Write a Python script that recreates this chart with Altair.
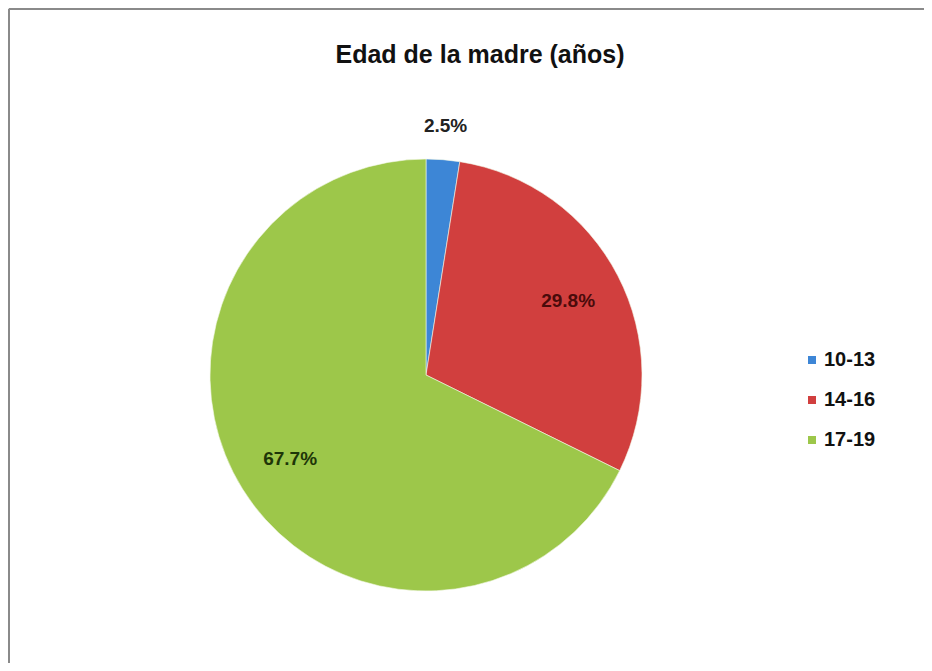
import altair as alt
import pandas as pd

categories = ["10-13", "14-16", "17-19"]
percentages = [2.5, 29.8, 67.7]
labels = ["2.5%", "29.8%", "67.7%"]
slice_colors = ["#3d86d6", "#d13f3e", "#9dc74a"]
label_colors = ["#222222", "#4a0b0b", "#1e3608"]
title_text = "Edad de la madre (años)"

df = pd.DataFrame({
    "cat": categories,
    "pct": percentages,
    "label": labels,
    "ord": list(range(len(categories))),
})

FONT = "Liberation Sans, Arial, sans-serif"
CX, CY = 418, 367
R = 216

base = alt.Chart(df).encode(
    theta=alt.Theta("pct:Q", stack=True),
    order=alt.Order("ord:Q"),
)

pie = base.mark_arc(radius=R, stroke="#f4f8e8", strokeWidth=0.6).encode(
    x=alt.value(CX), y=alt.value(CY),
    color=alt.Color(
        "cat:N",
        scale=alt.Scale(domain=categories, range=slice_colors),
        legend=alt.Legend(
            title=None, orient="none", legendX=794, legendY=342,
            symbolType="square", symbolSize=64, symbolStrokeWidth=0,
            labelFont=FONT, labelFontSize=20, labelFontWeight="bold",
            labelColor="#111111", rowPadding=20, labelOffset=2,
        ),
    ),
)

text_color = alt.Color(
    "cat:N",
    scale=alt.Scale(domain=categories, range=label_colors),
    legend=None,
)

inner = base.mark_text(radius=160, font=FONT, fontSize=19, fontWeight="bold").encode(
    x=alt.value(CX), y=alt.value(CY),
    text="label:N",
    color=text_color,
    opacity=alt.condition("datum.pct >= 5", alt.value(1), alt.value(0)),
)

outer = base.mark_text(radius=250, font=FONT, fontSize=19, fontWeight="bold").encode(
    x=alt.value(CX), y=alt.value(CY),
    text="label:N",
    color=text_color,
    opacity=alt.condition("datum.pct < 5", alt.value(1), alt.value(0)),
)

title = alt.Chart(pd.DataFrame({"t": [title_text]})).mark_text(
    font=FONT, fontSize=25, fontWeight="bold", color="#111111"
).encode(x=alt.value(472), y=alt.value(47), text="t:N")

frame_left = alt.Chart(pd.DataFrame({"a": [0]})).mark_rule(
    color="#8a8a8a", strokeWidth=2
).encode(x=alt.value(1), y=alt.value(1), y2=alt.value(660))

frame_top = alt.Chart(pd.DataFrame({"a": [0]})).mark_rule(
    color="#8a8a8a", strokeWidth=2
).encode(x=alt.value(1), x2=alt.value(916), y=alt.value(1))

chart = alt.layer(frame_left, frame_top, pie, inner, outer, title).resolve_scale(
    color="independent"
).properties(
    width=916, height=655,
    autosize=alt.AutoSizeParams(type="none"),
    padding=0,
).configure_view(stroke=None).configure(background="white")

chart.save("out.html", embed_options={"renderer": "svg", "actions": False})
